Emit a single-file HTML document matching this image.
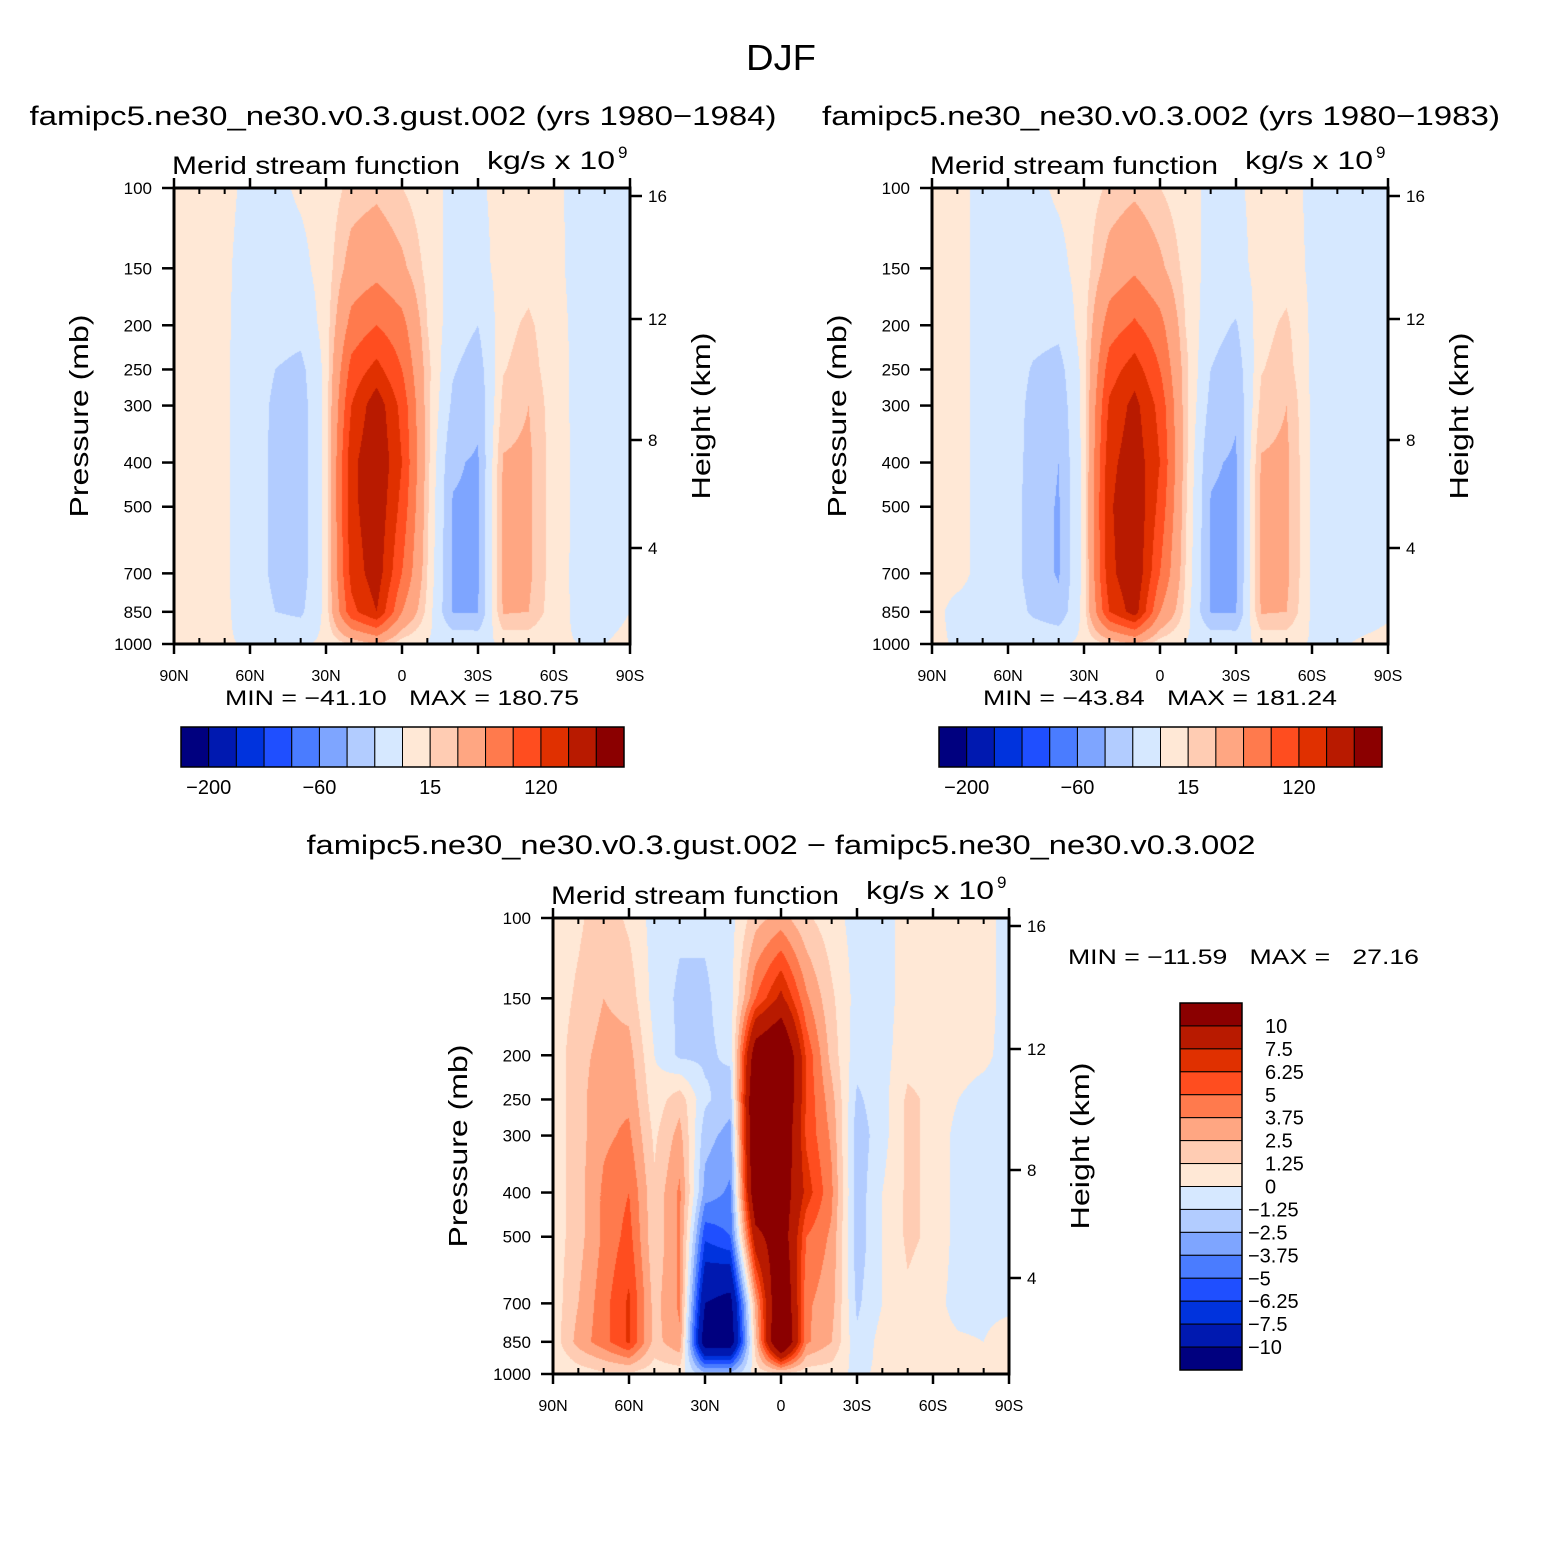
<!DOCTYPE html>
<html><head><meta charset="utf-8"><style>
body{margin:0;background:#fff;}
#wrap{position:relative;width:1563px;height:1560px;overflow:hidden;font-family:"Liberation Sans",sans-serif;}
canvas{position:absolute;}
svg{position:absolute;left:0;top:0;}
</style></head><body>
<div id="wrap">
<canvas id="c1" width="456" height="456" style="left:174px;top:188px"></canvas>
<canvas id="c2" width="456" height="456" style="left:932px;top:188px"></canvas>
<canvas id="c3" width="456" height="456" style="left:553px;top:918px"></canvas>
<svg id="svg" width="1563" height="1560"></svg>
</div>
<script>
const lats=[90,80,70,60,50,40,30,20,10,0,-10,-20,-30,-40,-50,-60,-70,-80,-90];
const plevs=[100,150,200,250,300,400,500,700,850,1000];
const grid1=[
[3,3,3,-3,-3,2,5,20,25,15,5,-3,-2,4,5,2,-3,-3,-3],
[3,3,2,-5,-6,-4,6,40,50,35,10,-6,-5,5,8,3,-4,-4,-3],
[3,3,2,-6,-10,-12,6,70,90,70,15,-10,-20,10,18,5,-4,-4,-3],
[3,3,2,-8,-20,-26,5,100,130,90,20,-18,-30,14,22,6,-4,-4,-3],
[3,3,2,-8,-24,-30,5,120,170,110,20,-24,-36,20,30,6,-4,-4,-3],
[3,3,2,-8,-25,-30,5,140,180,120,20,-38,-42,32,34,7,-4,-4,-3],
[3,3,2,-8,-25,-30,5,140,175,110,18,-41,-42,34,34,7,-4,-4,-3],
[3,3,2,-8,-25,-30,5,130,168,90,15,-41,-42,34,34,6,-4,-4,-3],
[3,3,2,-6,-20,-24,5,110,150,60,10,-41,-41,32,30,5,-3,-3,0],
[2,2,1,-1,-2,-2,3,15,30,5,-1,-4,-5,2,3,1,0,0,2]];
const grid2=[
[3,3,-3,-3,-3,2,5,18,25,15,5,-3,-2,4,5,-3,-3,-3,-3],
[3,3,-3,-5,-6,-4,6,40,55,35,10,-6,-5,5,8,-3,-4,-4,-3],
[3,3,-3,-6,-12,-14,8,75,95,70,15,-12,-22,10,18,-3,-4,-4,-3],
[3,3,-3,-8,-22,-28,6,105,135,90,20,-20,-32,14,22,-3,-4,-4,-3],
[3,3,-3,-8,-26,-34,6,125,160,110,20,-26,-38,20,30,-3,-4,-4,-3],
[3,3,-3,-8,-28,-40,6,140,170,120,20,-38,-42,32,34,-3,-4,-4,-3],
[3,3,-3,-8,-30,-42,6,145,178,110,18,-41,-43,34,34,-3,-4,-4,-3],
[3,3,-3,-8,-30,-42,6,140,178,90,15,-41,-43,34,34,-3,-4,-4,-3],
[3,-3,-3,-6,-24,-34,6,120,165,60,10,-41,-41,32,30,-3,-3,-3,-1],
[2,-1,-1,-1,-2,-2,3,15,30,5,-1,-4,-5,2,3,-1,-1,1,2]];
const grid3=[
[0.5,1,2,1,-0.5,-1,-1,-0.5,2,3,1.5,0.5,-0.5,-0.5,0.5,0.5,0.5,0.5,-0.5],
[0.5,1.5,2.5,2,-0.5,-1.5,-1.5,-0.5,5,8,4,1.5,-0.5,-0.5,0.5,0.5,0.5,0.5,-0.5],
[0.5,2,3,3,0,-1.5,-1.5,-1,12,14,6,2,-0.8,-0.5,0.8,0.8,0.5,0.3,-0.5],
[0.5,2,3.5,3.5,0.5,2,-1,-2,14,14,6,3,-1.5,-0.5,1.5,1,0,-0.5,-0.5],
[0.5,2,3.5,4,1,3,-2,-3,14,13,6,3.5,-2,-0.5,1.5,1,-0.5,-0.8,-0.5],
[0.5,2,4,5,1.5,4,-3,-4,13,12,7,4,-2,0,1.5,1,-0.5,-0.8,-0.5],
[0.5,2,4,5.5,1.5,4,-6,-5,9,12,5,3.5,-2,0,1.5,1,-0.5,-0.8,-0.5],
[0.5,2.5,4.5,6.5,2,4,-10,-11,3,14,4,3,-1.5,0,1,0.5,-0.5,-0.5,-0.5],
[0.5,3,4.5,6.5,2,3.5,-12,-12,2,15,4,2.5,-1,0.5,0.8,0.5,0.2,0,1],
[0,0.5,1,1,0.5,0.5,-2,-2,0.5,1,0.5,0.5,-0.3,0.3,0.5,0.2,0,0.2,0.5]];
const cnLevels12=[-200,-150,-100,-80,-60,-40,-20,0,15,30,60,90,120,150,200];
const cnLevels3=[-10,-7.5,-6.25,-5,-3.75,-2.5,-1.25,0,1.25,2.5,3.75,5,6.25,7.5,10];
const cnLevelLabels3=["-10","-7.5","-6.25","-5","-3.75","-2.5","-1.25","0","1.25","2.5","3.75","5","6.25","7.5","10"];
const barLabels12=["-200","-60","15","120"];
const barLabelIdx12=[0,4,8,12];
const fillColors=["#00007f","#0019b0","#0033dd","#1f4fff","#4a7cff","#7ea5ff","#b2ccff","#d6e8ff","#ffe8d6","#ffccb3","#ffa682","#ff7a4d","#ff4d1f","#e03000","#b81a00","#8b0000"];
const latTicks=[90,60,30,0,-30,-60,-90];
const latTickLabels=["90N","60N","30N","0","30S","60S","90S"];
const pTicks=[100,150,200,250,300,400,500,700,850,1000];
const hTicks=[16,12,8,4];
const hTickY=[196,319,440,548];

const W=456,H=456;
function xScale(lat,x0){return x0+(90-lat)/180*W;}
function yScale(p,y0){return y0+Math.log10(p/100)*H;}
function rgb(h){return [parseInt(h.substr(1,2),16),parseInt(h.substr(3,2),16),parseInt(h.substr(5,2),16)];}
const rgbs=fillColors.map(rgb);
function colorIdx(v,lv){let i=0;while(i<lv.length&&v>=lv[i])i++;return i;}
function drawField(id,grid,lv){
  const cv=document.getElementById(id),ctx=cv.getContext('2d');
  const img=ctx.createImageData(W,H);
  const logs=plevs.map(p=>Math.log10(p));
  for(let py=0;py<H;py++){
    const lp=2+(py+0.5)/H;
    let r=0;while(r<plevs.length-2&&logs[r+1]<lp)r++;
    const fy=Math.min(1,Math.max(0,(lp-logs[r])/(logs[r+1]-logs[r])));
    for(let px=0;px<W;px++){
      const lat=90-(px+0.5)/W*180;
      const cf=(90-lat)/10;let c=Math.min(17,Math.floor(cf));const fx=cf-c;
      const v=(grid[r][c]*(1-fx)+grid[r][c+1]*fx)*(1-fy)+(grid[r+1][c]*(1-fx)+grid[r+1][c+1]*fx)*fy;
      const col=rgbs[colorIdx(v,lv)];const k=(py*W+px)*4;
      img.data[k]=col[0];img.data[k+1]=col[1];img.data[k+2]=col[2];img.data[k+3]=255;
    }
  }
  ctx.putImageData(img,0,0);
}
drawField('c1',grid1,cnLevels12);
drawField('c2',grid2,cnLevels12);
drawField('c3',grid3,cnLevels3);

const svg=document.getElementById('svg');const NS='http://www.w3.org/2000/svg';
function el(tag,attrs,parent){const e=document.createElementNS(NS,tag);for(const k in attrs)e.setAttribute(k,attrs[k]);(parent||svg).appendChild(e);return e;}
function txt(s,x,y,size,anchor,parent,rot,len){const t=el('text',{x:x,y:y,'font-size':size,'text-anchor':anchor||'middle','font-family':'Liberation Sans, sans-serif',fill:'#000'},parent);if(len){t.setAttribute('textLength',len);t.setAttribute('lengthAdjust','spacingAndGlyphs');}if(rot)t.setAttribute('transform','rotate(-90 '+x+' '+y+')');t.textContent=s;return t;}

function panel(x0,y0,name){
  const g=el('g',{});
  
  
  const fr=el('rect',{x:x0,y:y0,width:W,height:H,fill:'none',stroke:'#000','stroke-width':3},g);
  
  
  for(let lat=90;lat>=-90;lat-=10){
    const x=xScale(lat,x0);const major=lat%30===0;
    if(major){el('line',{x1:x,y1:y0+H,x2:x,y2:y0+H+10,stroke:'#000','stroke-width':2.5},g);el('line',{x1:x,y1:y0,x2:x,y2:y0-10,stroke:'#000','stroke-width':2.5},g);}
    else{el('line',{x1:x,y1:y0+H,x2:x,y2:y0+H-6,stroke:'#000','stroke-width':2},g);el('line',{x1:x,y1:y0,x2:x,y2:y0+6,stroke:'#000','stroke-width':2},g);}
  }
  latTicks.forEach((lat,i)=>{const t=txt(latTickLabels[i],xScale(lat,x0),y0+H+37,16,'middle',g);
    
    });
  pTicks.forEach(p=>{const y=yScale(p,y0);el('line',{x1:x0-12,y1:y,x2:x0,y2:y,stroke:'#000','stroke-width':2.5},g);
    const t=txt(String(p),x0-22,y+6,17,'end',g);
    
    });
  hTicks.forEach((h,i)=>{const y=y0+(hTickY[i]-188);el('line',{x1:x0+W,y1:y,x2:x0+W+12,y2:y,stroke:'#000','stroke-width':2.5},g);
    const t=txt(String(h),x0+W+18,y+6,17,'start',g);
    
    });
  const a=txt('Merid stream function',x0-2,y0-14,25,'start',g,false,288);
  
  
  const b=txt('kg/s x 10',x0+313,y0-19,25,'start',g,false,128);
  
  
  const sup=txt('9',x0+444,y0-30,17,'start',g);
  
  
  const yl=txt('Pressure (mb)',x0-86,y0+228,26,'middle',g,true,203);
  
  
  const yr=txt('Height (km)',x0+W+80,y0+228,26,'middle',g,true,167);
  
  
}
panel(174,188,'gust-panel');
panel(932,188,'control-panel');
panel(553,918,'difference-panel');

function hbar(x0,y0,name){
  const g=el('g',{});
  
  
  const bw=443/16;
  fillColors.forEach((c,i)=>{const r=el('rect',{x:x0+i*bw,y:y0,width:bw,height:40,fill:c,stroke:'#000','stroke-width':1},g);
    
    });
  el('rect',{x:x0,y:y0,width:443,height:40,fill:'none',stroke:'#000','stroke-width':1.5},g);
  barLabelIdx12.forEach((k,i)=>{const t=txt(barLabels12[i].replace('-','\u2212'),x0+(k+1)*bw,y0+67,20,'middle',g);
    
    });
}
hbar(181,727,'colorbar-gust');
hbar(939,727,'colorbar-control');

const vg=el('g',{});


const bh=367/16;
fillColors.slice().reverse().forEach((c,i)=>{const r=el('rect',{x:1180,y:1003+i*bh,width:62,height:bh,fill:c,stroke:'#000','stroke-width':1},vg);
  
  });
el('rect',{x:1180,y:1003,width:62,height:367,fill:'none',stroke:'#000','stroke-width':1.5},vg);
cnLevelLabels3.slice().reverse().forEach((s,i)=>{const y=1003+(i+1)*bh+7;const neg=s[0]==='-';
  const t=txt(s.replace('-','\u2212'),neg?1248:1265,y,20,'start',vg);
  
  });

const texts=[
 ['DJF',781,70,36,'middle','figure-title',70],
 ['famipc5.ne30_ne30.v0.3.gust.002 (yrs 1980\u22121984)',403,125,27,'middle','gust-title',747],
 ['famipc5.ne30_ne30.v0.3.002 (yrs 1980\u22121983)',1161,125,27,'middle','control-title',678],
 ['MIN = \u221241.10   MAX = 180.75',402,705,21,'middle','gust-minmax',354],
 ['MIN = \u221243.84   MAX = 181.24',1160,705,21,'middle','control-minmax',354],
 ['famipc5.ne30_ne30.v0.3.gust.002 \u2212 famipc5.ne30_ne30.v0.3.002',781,854,27,'middle','difference-title',949],
 ['MIN = \u221211.59   MAX =   27.16',1068,964,21,'start','difference-minmax',351]];
texts.forEach(a=>{const t=txt(a[0],a[1],a[2],a[3],a[4],null,false,a[6]);t.setAttribute('xml:space','preserve');t.style.whiteSpace='pre';
  
  });
</script>
</body></html>
